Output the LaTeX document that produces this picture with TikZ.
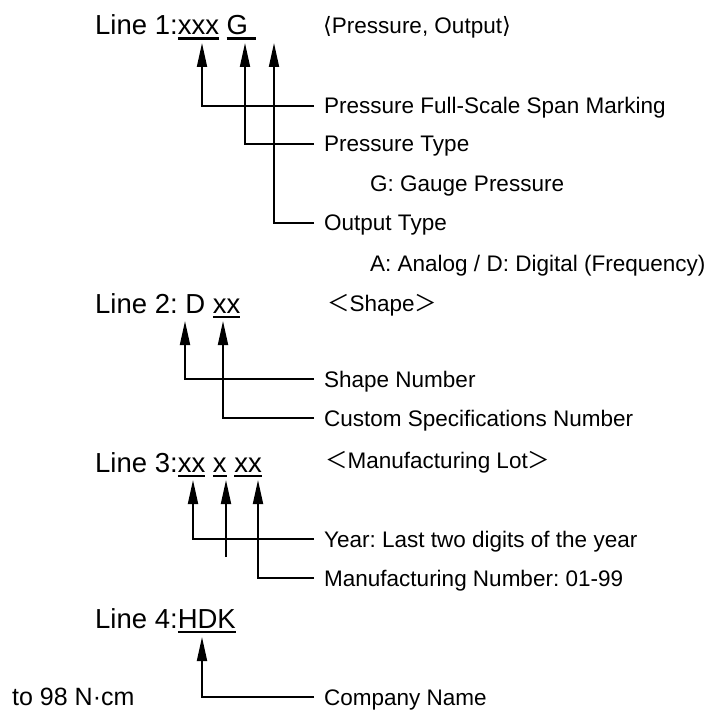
\documentclass[tikz,border=0pt]{standalone}
\usepackage{fontspec}
\setmainfont{Liberation Sans}
\newfontfamily\cjkfont{Noto Sans CJK JP}
\newfontfamily\bracketfont{DejaVu Sans}
\usetikzlibrary{arrows.meta}
\frenchspacing
\newsavebox{\ulbox}
\newcommand{\ulpart}[1]{\sbox{\ulbox}{#1}\rlap{\rule[-5pt]{\wd\ulbox}{2.5pt}}\usebox{\ulbox}}

\begin{document}
\begin{tikzpicture}[
    x=1pt, y=-1pt,
    linetext/.style={anchor=base west, inner sep=0pt, font=\fontsize{27.5pt}{30pt}\selectfont},
    desc/.style={anchor=west, inner sep=0pt, text height=16pt, text depth=0pt, font=\fontsize{22.5pt}{26pt}\selectfont},
    head/.style={anchor=base west, inner sep=0pt, font=\fontsize{22.5pt}{26pt}\selectfont},
    pointer/.style={-{Triangle[length=24pt,width=10pt]}, line width=1.8pt}
]
\path[use as bounding box] (0,0) rectangle (723,714);

% Line 1: pressure and output
\node[linetext] (line1) at (95,35) {Line 1:\ulpart{xxx} \ulpart{G\ }};
\node[head] (hdpress) at (323,34) {{\bracketfont ⟨}Pressure, Output{\bracketfont ⟩}};
\coordinate (t1a) at (202,43);
\coordinate (t1b) at (245,43);
\coordinate (t1c) at (274,43);
\node[desc] (span) at (324,106) {Pressure Full-Scale Span Marking};
\node[desc] (ptype) at (324,144) {Pressure Type};
\node[desc] (gauge) at (370,184) {G: Gauge Pressure};
\node[desc] (otype) at (324,223) {Output Type};
\node[desc] (analog) at (370,263) {A: Analog / D: Digital (Frequency)};

% Line 2: shape
\node[linetext] (line2) at (95,313) {Line 2: D \ulpart{xx}};
\node[desc] (hdshape) at (327,303) {{\cjkfont ＜}Shape{\cjkfont ＞}};
\coordinate (t2a) at (185,321);
\coordinate (t2b) at (223,321);
\node[desc] (shapeno) at (324,379) {Shape Number};
\node[desc] (custom) at (324,418) {Custom Specifications Number};

% Line 3: manufacturing lot
\node[linetext] (line3) at (95,472) {Line 3:\ulpart{xx} \ulpart{x} \ulpart{xx}};
\node[desc] (hdlot) at (325,460) {{\cjkfont ＜}Manufacturing Lot{\cjkfont ＞}};
\coordinate (t3a) at (193,480);
\coordinate (t3b) at (226,480);
\coordinate (t3c) at (258,480);
\coordinate (stub) at (226,557);
\node[desc] (year) at (324,539) {Year: Last two digits of the year};
\node[desc] (mfgno) at (324,578) {Manufacturing Number: 01-99};

% Line 4: company
\node[linetext] (line4) at (95,628) {Line 4:\ulpart{HDK}};
\coordinate (t4a) at (202,637);
\node[desc] (company) at (324,697) {Company Name};
\node[desc, font=\fontsize{25pt}{28pt}\selectfont] (torque) at (12,697) {to 98 N·cm};

% Pointers
\draw[pointer] ([xshift=-10pt]span.west) -| (t1a);
\draw[pointer] ([xshift=-10pt]ptype.west) -| (t1b);
\draw[pointer] ([xshift=-10pt]otype.west) -| (t1c);
\draw[pointer] ([xshift=-10pt]shapeno.west) -| (t2a);
\draw[pointer] ([xshift=-10pt]custom.west) -| (t2b);
\draw[pointer] ([xshift=-10pt]year.west) -| (t3a);
\draw[pointer] (stub) -- (t3b);
\draw[pointer] ([xshift=-10pt]mfgno.west) -| (t3c);
\draw[pointer] ([xshift=-10pt]company.west) -| (t4a);

\end{tikzpicture}
\end{document}
